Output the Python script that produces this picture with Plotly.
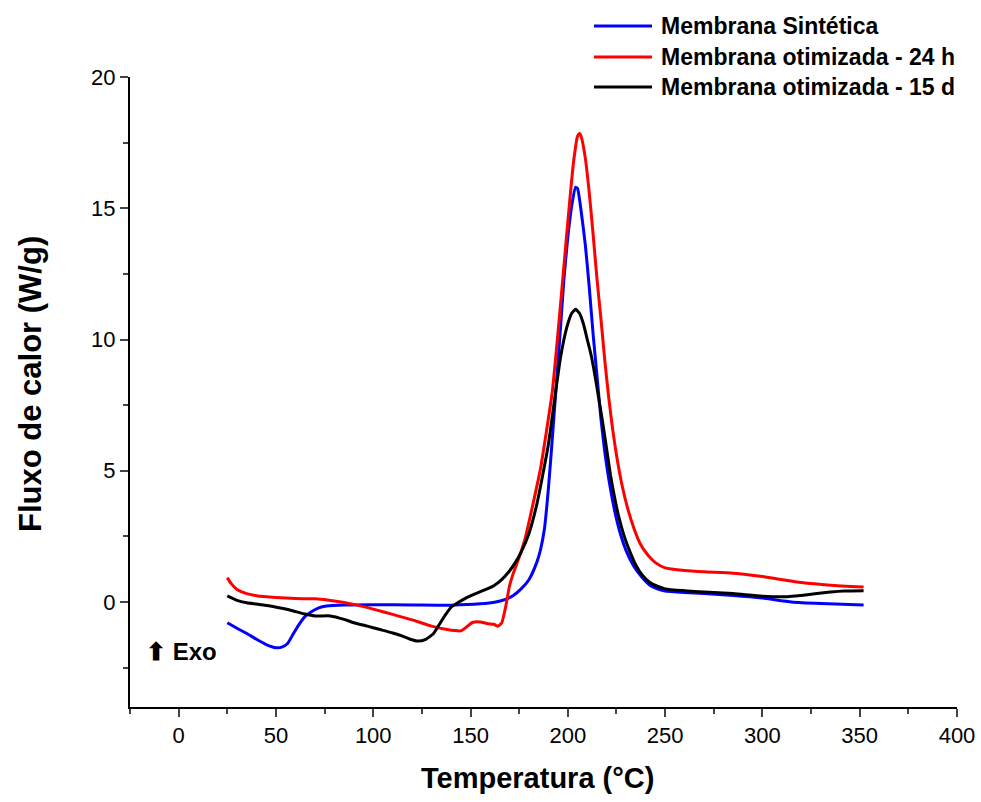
import plotly.graph_objects as go

# ---- data ----
t_sint = [25, 30, 35, 40, 45, 50, 53, 56, 59, 62, 65, 68, 72, 76, 85, 100, 120, 140, 155, 163, 168, 172, 176, 180, 184,
          186, 188, 190, 192, 194, 196, 198, 200, 202, 204, 205, 207, 209, 211, 213, 215, 217, 219, 221, 224, 227, 230,
          234, 238, 242, 246, 250, 260, 270, 285, 300, 315, 330, 352]
f_sint = [-0.79, -1.0, -1.2, -1.42, -1.62, -1.74, -1.72, -1.58, -1.2, -0.84, -0.55, -0.38, -0.22, -0.15, -0.11, -0.1,
          -0.11, -0.12, -0.07, 0.0, 0.1, 0.25, 0.5, 0.85, 1.5,
          2.0, 2.8, 4.3, 6.2, 8.2, 10.2, 12.3, 13.9, 15.1, 15.8, 15.75, 14.8, 13.6, 12.0, 10.2, 8.6, 7.0, 5.7, 4.7, 3.5,
          2.6, 1.95, 1.35, 0.95, 0.65, 0.5, 0.42, 0.36, 0.32, 0.25, 0.15, 0.0, -0.06, -0.11]

t_24h = [25, 27, 30, 35, 40, 50, 60, 70, 80, 90, 100, 110, 120, 130, 138, 145, 148, 151, 155, 159, 162, 164, 166, 168,
         170, 172, 175, 178, 182, 186, 189, 192, 195, 198, 201, 203, 205, 206, 207, 209, 211, 213, 215, 217, 219, 221,
         223, 225, 228, 231, 234, 237, 241, 245, 250, 260, 270, 285, 300, 310, 320, 335, 352]
f_24h = [0.93, 0.7, 0.48, 0.32, 0.24, 0.17, 0.13, 0.12, 0.04, -0.09, -0.27, -0.47, -0.68, -0.92, -1.05, -1.1, -0.95,
         -0.78, -0.76, -0.83, -0.85, -0.92, -0.8, -0.2, 0.6, 1.1, 1.7, 2.4, 3.7, 5.1, 6.5, 8.0, 10.3, 12.8, 15.3, 16.8,
         17.75, 17.85, 17.7, 16.9, 15.6, 14.0, 12.3, 10.8, 9.2, 7.8, 6.6, 5.6, 4.4, 3.5, 2.8, 2.25, 1.8, 1.5, 1.3, 1.2,
         1.15, 1.1, 0.97, 0.85, 0.74, 0.64, 0.57]

t_15d = [25, 30, 35, 40, 47, 53, 59, 65, 70, 78, 85, 90, 97, 103, 110, 115, 119, 123, 127, 131, 134, 137, 140, 144, 148,
         152, 157, 162, 166, 170, 173, 176, 180, 184, 187, 190, 193, 196, 198, 200, 202, 204, 206, 208, 210, 212, 214,
         216, 218, 220, 222, 224, 226, 229, 232, 235, 238, 242, 246, 250, 260, 270, 285, 300, 313, 320, 328, 335, 342, 352]
f_15d = [0.23, 0.06, -0.03, -0.08, -0.15, -0.24, -0.34, -0.46, -0.53, -0.53, -0.66, -0.79, -0.92, -1.04, -1.18, -1.3,
         -1.42, -1.49, -1.42, -1.2, -0.85, -0.5, -0.2, 0.0, 0.17, 0.3, 0.45, 0.62, 0.85, 1.18, 1.5, 1.9, 2.6, 3.7, 4.8,
         6.0, 7.6, 9.2, 10.0, 10.6, 11.0, 11.15, 11.0, 10.6, 10.0, 9.4, 8.6, 7.7, 6.8, 5.8, 4.8, 4.0, 3.3, 2.5, 1.9,
         1.4, 1.05, 0.75, 0.6, 0.5, 0.43, 0.38, 0.32, 0.22, 0.2, 0.25, 0.32, 0.38, 0.42, 0.43]

series_names = ["Membrana Sintética", "Membrana otimizada - 24 h", "Membrana otimizada - 15 d"]
series_colors = ["#0000FF", "#FF0000", "#000000"]
x_ticks = [0, 50, 100, 150, 200, 250, 300, 350, 400]
y_ticks = [0, 5, 10, 15, 20]

FONT = "Liberation Sans, Arial, sans-serif"

fig = go.Figure()
for t, f, name, col in [(t_sint, f_sint, series_names[0], series_colors[0]),
                        (t_24h, f_24h, series_names[1], series_colors[1]),
                        (t_15d, f_15d, series_names[2], series_colors[2])]:
    fig.add_trace(go.Scatter(x=t, y=f, mode="lines", name=name,
                             line=dict(color=col, width=3, shape="spline", smoothing=0.5),
                             showlegend=False))

# plot area in pixels
L, R, T, B = 130, 957, 77, 707
W, H = 981, 802


def px_x(p):
    return (p - L) / (R - L)


def px_y(p):
    return (B - p) / (B - T)


# manual legend (long line samples like the original)
shapes = []
annotations = []
legend_rows = [26, 57, 87]
for name, col, yy in zip(series_names, series_colors, legend_rows):
    shapes.append(dict(type="line", xref="paper", yref="paper",
                       x0=px_x(594), x1=px_x(652), y0=px_y(yy), y1=px_y(yy),
                       line=dict(color=col, width=3)))
    annotations.append(dict(xref="paper", yref="paper", x=px_x(659), y=px_y(yy),
                            xanchor="left", yanchor="middle", showarrow=False,
                            text="<b>%s</b>" % name,
                            font=dict(family=FONT, size=23, color="black")))

# Exo marker
annotations.append(dict(xref="paper", yref="paper", x=px_x(144), y=px_y(651),
                        xanchor="left", yanchor="middle", showarrow=False,
                        text="<b>\u2B06 Exo</b>",
                        font=dict(family=FONT, size=24, color="black")))

# axis titles
annotations.append(dict(xref="paper", yref="paper", x=px_x(537), y=px_y(778),
                        xanchor="center", yanchor="middle", showarrow=False,
                        text="<b>Temperatura (°C)</b>",
                        font=dict(family=FONT, size=29, color="black")))
annotations.append(dict(xref="paper", yref="paper", x=px_x(30), y=px_y(384),
                        xanchor="center", yanchor="middle", showarrow=False, textangle=-90,
                        text="<b>Fluxo de calor (W/g)</b>",
                        font=dict(family=FONT, size=31, color="black")))

fig.update_layout(
    width=W, height=H,
    margin=dict(l=L, r=W - R, t=T, b=H - B, autoexpand=False),
    paper_bgcolor="white", plot_bgcolor="white",
    shapes=shapes, annotations=annotations,
    font=dict(family=FONT, color="black"),
)
fig.update_xaxes(range=[-25, 400], tickvals=x_ticks, ticks="outside", ticklen=8, tickwidth=1.5,
                 showline=True, linecolor="black", linewidth=2, showgrid=False, zeroline=False,
                 automargin=False,
                 tickfont=dict(family=FONT, size=22, color="black"),
                 minor=dict(ticks="outside", ticklen=5, tickwidth=1.5, dtick=50, tick0=-25, showgrid=False))
fig.update_yaxes(range=[-4, 20], tickvals=y_ticks, ticks="outside", ticklen=8, tickwidth=1.5,
                 showline=True, linecolor="black", linewidth=2, showgrid=False, zeroline=False,
                 automargin=False,
                 tickfont=dict(family=FONT, size=22, color="black"),
                 minor=dict(ticks="outside", ticklen=5, tickwidth=1.5, dtick=5, tick0=2.5, showgrid=False))

fig.write_html("out.html")
